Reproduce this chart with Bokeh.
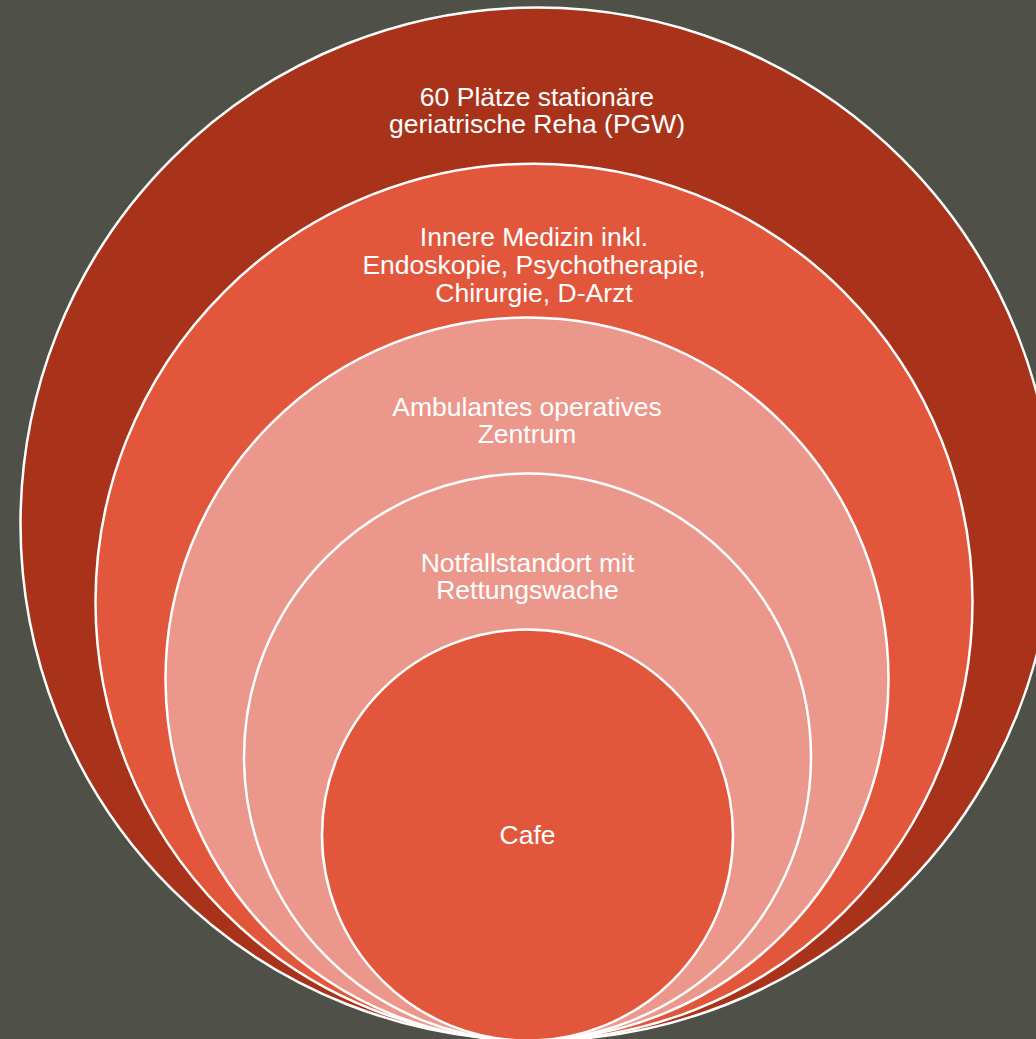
from bokeh.plotting import figure
from bokeh.models import Range1d, ColumnDataSource
from bokeh.core.properties import value
from bokeh.embed import file_html
from bokeh.resources import INLINE

# Stacked-Venn rings (outer -> inner)
labels = [
    "60 Plätze stationäre\ngeriatrische Reha (PGW)",
    "Innere Medizin inkl.\nEndoskopie, Psychotherapie,\nChirurgie, D-Arzt",
    "Ambulantes operatives\nZentrum",
    "Notfallstandort mit\nRettungswache",
    "Cafe",
]
centers_x = [536.5, 533.5, 526.5, 527.0, 527.0]
tops = [7.0, 163.0, 317.0, 473.0, 629.0]
bottom = 1040.0
fills = ["#A9331A", "#E2573C", "#EC978B", "#EC978B", "#E2573C"]
BG = "#4F5048"

radii = [(bottom - t) / 2 for t in tops]
centers_y = [t + r for t, r in zip(tops, radii)]

label_y = []
for i, t in enumerate(tops):
    if i + 1 < len(tops):
        label_y.append(t + 0.66 * (tops[i + 1] - t))
    else:
        label_y.append(centers_y[i])

W, H = 1036, 1039
p = figure(width=W, height=H, x_range=Range1d(0, W), y_range=Range1d(H, 0),
           output_backend="svg", toolbar_location=None, min_border=0)
p.background_fill_color = BG
p.border_fill_color = BG
p.outline_line_color = None
p.xaxis.visible = False
p.yaxis.visible = False
p.xgrid.visible = False
p.ygrid.visible = False

src = ColumnDataSource(dict(x=centers_x, y=centers_y, r=radii, fill=fills))
p.circle(x="x", y="y", radius="r", fill_color="fill", line_color="white",
         line_width=2.5, source=src)

tsrc = ColumnDataSource(dict(x=centers_x, y=label_y, text=labels))
p.text(x="x", y="y", text="text", source=tsrc, text_color="white",
       text_font=value("Liberation Sans"), text_font_size="26.5px",
       text_align="center", text_baseline="middle", text_line_height=0.93)

html = file_html(p, INLINE, title="Venn")
html = html.replace("<head>", "<head><style>html,body{background:%s;}</style>" % BG, 1)
open("out.html", "w").write(html)
